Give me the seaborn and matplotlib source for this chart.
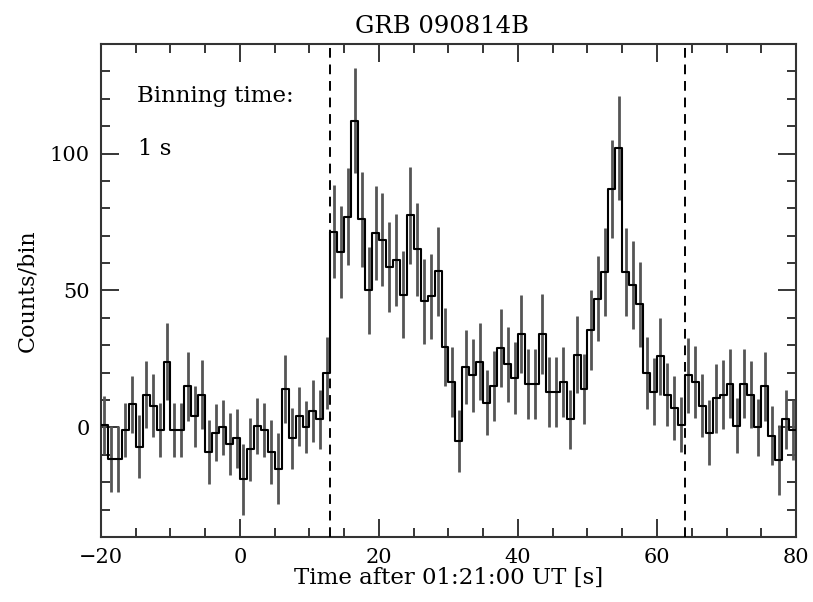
import numpy as np
import pandas as pd
import matplotlib
matplotlib.use("Agg")
import matplotlib.pyplot as plt
import seaborn as sns
from matplotlib.ticker import MultipleLocator

# ---- data (1 s bins, bin centres) ----
bin_centers = np.arange(-19.5, 80.0, 1.0)
counts = [
    1, -11.5, -11.5, -1, 8.5, -7, 12, 8, -1, 24,
    -1, -1, 15, 4, 12, -9, -2, 0, -6, -4,
    -19, -8, 0.5, -1, -9, -15, 14, -4, 4, 0,
    6, 3, 20, 71.5, 64, 77, 112, 76, 50, 71,
    68.5, 58.5, 61, 48.5, 77.5, 65, 46, 47.8, 57, 29.3,
    16.7, -5, 22, 19, 24, 9, 15, 29, 23, 18,
    34, 16, 16, 34, 13, 13, 16.7, 3, 26.6, 14,
    35.6, 47, 56.7, 87, 102, 56.7, 52, 45, 20, 13,
    26, 12, 7, 1, 19, 16.7, 8, -2, 10.6, 12,
    16, 0.6, 16, 12, 0, 15, -3, -12, 3, -1,
]
errors = [
    10.6, 11.9, 12.2, 9.8, 10.4, 11.6, 12.2, 11.6, 9.8, 14.0,
    9.8, 9.8, 12.5, 11.0, 12.5, 11.6, 10.4, 10.1, 11.3, 10.7,
    13.1, 11.6, 10.1, 9.8, 11.6, 12.8, 12.5, 11.0, 10.7, 9.5,
    11.3, 10.7, 13.1, 17.0, 16.7, 17.7, 19.2, 17.4, 15.9, 17.0,
    17.0, 16.5, 16.8, 15.9, 17.7, 17.0, 15.5, 15.5, 16.2, 14.3,
    12.8, 11.3, 13.4, 13.4, 14.0, 11.9, 12.8, 14.3, 13.7, 13.1,
    14.3, 12.8, 12.8, 14.6, 12.8, 12.8, 12.8, 10.7, 14.0, 12.8,
    14.6, 15.5, 16.2, 18.0, 19.0, 16.2, 16.2, 15.5, 13.1, 12.2,
    14.0, 11.6, 11.6, 10.0, 13.7, 13.1, 11.6, 11.9, 12.5, 12.6,
    12.5, 10.0, 12.5, 12.2, 10.4, 12.5, 10.7, 12.8, 10.7, 11.0,
]
marker_times = [13, 64]
title = "GRB 090814B"
xlabel = "Time after 01:21:00 UT [s]"
ylabel = "Counts/bin"
note1 = "Binning time:"
note2 = "1 s"

# step outline built from the bins (left edges + final edge)
bin_width = 1.0
edges = np.append(bin_centers - bin_width / 2, bin_centers[-1] + bin_width / 2)
step_vals = np.append(counts, counts[-1])
df_step = pd.DataFrame({"t": edges, "c": step_vals})

sns.set_style("ticks")
plt.rcParams["font.family"] = ["DejaVu Serif", "DejaVu Sans"]
plt.rcParams["axes.linewidth"] = 1.5

fig = plt.figure(figsize=(8.13, 6.02), dpi=100)
ax = fig.add_axes([0.1242, 0.108, 0.8549, 0.819])

ax.errorbar(bin_centers, counts, yerr=errors, fmt="none",
            ecolor="#555555", elinewidth=2.0, capsize=0, zorder=2)
sns.lineplot(data=df_step, x="t", y="c", drawstyle="steps-post",
             color="black", linewidth=1.5, ax=ax, zorder=3)

for mt in marker_times:
    ax.axvline(mt, color="black", linestyle=(0, (5, 3.5)), linewidth=1.4, zorder=4)

ax.set_xlim(-20, 80)
ax.set_ylim(-40, 140)
ax.xaxis.set_major_locator(MultipleLocator(20))
ax.xaxis.set_minor_locator(MultipleLocator(5))
ax.yaxis.set_major_locator(MultipleLocator(50))
ax.yaxis.set_minor_locator(MultipleLocator(10))
ax.tick_params(which="both", direction="in", top=True, right=True,
               colors="black", labelsize=15, width=1.1)
ax.tick_params(which="major", length=13, pad=8)
ax.tick_params(which="minor", length=6.5)
for s in ax.spines.values():
    s.set_color("#333333")
    s.set_visible(True)

ax.set_title(title, fontsize=17.5, pad=8, x=0.49, color="black")
ax.set_xlabel(xlabel, fontsize=16.5, labelpad=0, color="black")
ax.set_ylabel(ylabel, fontsize=16, labelpad=8, color="black")

ax.text(-14.8, 118.8, note1, fontsize=16.5, ha="left", va="baseline", color="black")
ax.text(-14.7, 99.3, note2, fontsize=16.5, ha="left", va="baseline", color="black")

fig.savefig("out.png", dpi=100, facecolor="white")
